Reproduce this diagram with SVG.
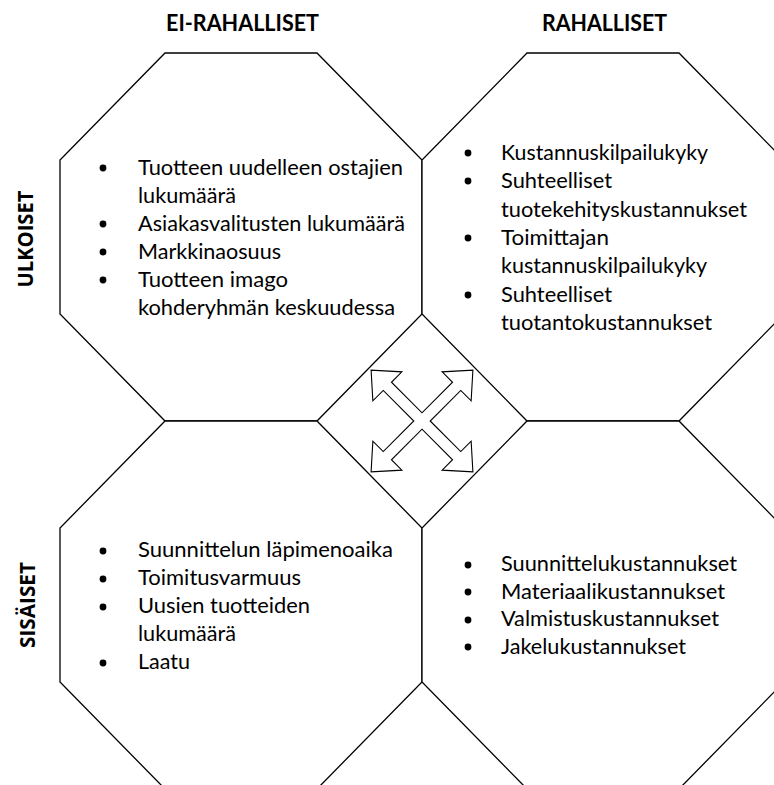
<svg xmlns="http://www.w3.org/2000/svg" width="774" height="785" viewBox="0 0 774 785">
  <style>
    .oct { fill: #ffffff; stroke: #000000; stroke-width: 1.3; stroke-linejoin: miter; }
    .arrow { fill: #ffffff; stroke: #000000; stroke-width: 1.1; stroke-linejoin: miter; }
    .t { font-family: Lato, "Liberation Sans", sans-serif; font-size: 21px; fill: #000000; }
    .h { font-family: Lato, "Liberation Sans", sans-serif; font-size: 22px; font-weight: bold; fill: #000000; }
    .v { font-family: "Open Sans", Lato, "Liberation Sans", sans-serif; font-size: 22px; font-weight: bold; fill: #000000; }
    .dot { fill: #000000; }
  </style>

  <rect x="0" y="0" width="774" height="785" fill="#ffffff"/>

  <!-- column headings -->
  <g id="heading-ei-rahalliset">
    <text class="h" x="166" y="31" textLength="153" lengthAdjust="spacingAndGlyphs">EI-RAHALLISET</text>
  </g>
  <g id="heading-rahalliset">
    <text class="h" x="542" y="31" textLength="125" lengthAdjust="spacingAndGlyphs">RAHALLISET</text>
  </g>

  <!-- row headings -->
  <g id="heading-ulkoiset">
    <text class="v" transform="translate(33,239) rotate(-90)" text-anchor="middle" textLength="97" lengthAdjust="spacingAndGlyphs">ULKOISET</text>
  </g>
  <g id="heading-sisaiset">
    <text class="v" transform="translate(35,605) rotate(-90)" text-anchor="middle" textLength="86" lengthAdjust="spacingAndGlyphs">SISÄISET</text>
  </g>

  <!-- external, non-monetary -->
  <g id="octagon-external-nonmonetary">
    <polygon class="oct" points="165,53 317,53 422,160 422,314 317,421 165,421 60,314 60,160"/>
    <circle class="dot" cx="103" cy="168" r="3.4"/>
    <circle class="dot" cx="103" cy="224" r="3.4"/>
    <circle class="dot" cx="103" cy="252" r="3.4"/>
    <circle class="dot" cx="103" cy="280" r="3.4"/>
    <text class="t" x="138" y="175" textLength="265" lengthAdjust="spacingAndGlyphs">Tuotteen uudelleen ostajien</text>
    <text class="t" x="138" y="203" textLength="98" lengthAdjust="spacingAndGlyphs">lukumäärä</text>
    <text class="t" x="138" y="231" textLength="267" lengthAdjust="spacingAndGlyphs">Asiakasvalitusten lukumäärä</text>
    <text class="t" x="138" y="259" textLength="143" lengthAdjust="spacingAndGlyphs">Markkinaosuus</text>
    <text class="t" x="138" y="287" textLength="150" lengthAdjust="spacingAndGlyphs">Tuotteen imago</text>
    <text class="t" x="138" y="315" textLength="257" lengthAdjust="spacingAndGlyphs">kohderyhmän keskuudessa</text>
  </g>

  <!-- external, monetary -->
  <g id="octagon-external-monetary">
    <polygon class="oct" points="527,53 679,53 784,160 784,314 679,421 527,421 422,314 422,160"/>
    <circle class="dot" cx="468" cy="153" r="3.4"/>
    <circle class="dot" cx="468" cy="181" r="3.4"/>
    <circle class="dot" cx="468" cy="238" r="3.4"/>
    <circle class="dot" cx="468" cy="295" r="3.4"/>
    <text class="t" x="501" y="160" textLength="207" lengthAdjust="spacingAndGlyphs">Kustannuskilpailukyky</text>
    <text class="t" x="501" y="188.3" textLength="111" lengthAdjust="spacingAndGlyphs">Suhteelliset</text>
    <text class="t" x="501" y="216.6" textLength="246" lengthAdjust="spacingAndGlyphs">tuotekehityskustannukset</text>
    <text class="t" x="501" y="244.9" textLength="108" lengthAdjust="spacingAndGlyphs">Toimittajan</text>
    <text class="t" x="501" y="273.2" textLength="206" lengthAdjust="spacingAndGlyphs">kustannuskilpailukyky</text>
    <text class="t" x="501" y="301.5" textLength="111" lengthAdjust="spacingAndGlyphs">Suhteelliset</text>
    <text class="t" x="501" y="329.8" textLength="211" lengthAdjust="spacingAndGlyphs">tuotantokustannukset</text>
  </g>

  <!-- internal, non-monetary -->
  <g id="octagon-internal-nonmonetary">
    <polygon class="oct" points="165,421 317,421 422,528 422,682 317,789 165,789 60,682 60,528"/>
    <circle class="dot" cx="103" cy="551" r="3.4"/>
    <circle class="dot" cx="103" cy="579" r="3.4"/>
    <circle class="dot" cx="103" cy="607" r="3.4"/>
    <circle class="dot" cx="103" cy="663" r="3.4"/>
    <text class="t" x="138" y="557" textLength="255" lengthAdjust="spacingAndGlyphs">Suunnittelun läpimenoaika</text>
    <text class="t" x="138" y="585" textLength="163" lengthAdjust="spacingAndGlyphs">Toimitusvarmuus</text>
    <text class="t" x="138" y="613" textLength="172" lengthAdjust="spacingAndGlyphs">Uusien tuotteiden</text>
    <text class="t" x="138" y="641" textLength="98" lengthAdjust="spacingAndGlyphs">lukumäärä</text>
    <text class="t" x="138" y="669" textLength="52" lengthAdjust="spacingAndGlyphs">Laatu</text>
  </g>

  <!-- internal, monetary -->
  <g id="octagon-internal-monetary">
    <polygon class="oct" points="527,421 679,421 784,528 784,682 679,789 527,789 422,682 422,528"/>
    <circle class="dot" cx="468" cy="565" r="3.4"/>
    <circle class="dot" cx="468" cy="592" r="3.4"/>
    <circle class="dot" cx="468" cy="620" r="3.4"/>
    <circle class="dot" cx="468" cy="647" r="3.4"/>
    <text class="t" x="501" y="571" textLength="236" lengthAdjust="spacingAndGlyphs">Suunnittelukustannukset</text>
    <text class="t" x="501" y="598.5" textLength="224" lengthAdjust="spacingAndGlyphs">Materiaalikustannukset</text>
    <text class="t" x="501" y="626" textLength="218" lengthAdjust="spacingAndGlyphs">Valmistuskustannukset</text>
    <text class="t" x="501" y="653.5" textLength="185" lengthAdjust="spacingAndGlyphs">Jakelukustannukset</text>
  </g>

  <!-- four-way arrow in the central diamond -->
  <g id="connectors">
    <g id="quad-arrow" transform="translate(422,421)">
      <polygon class="arrow" points="8.2,0 38.75,30.55 49.15,20.15 50.9,50.9 20.15,49.15 30.55,38.75 0,8.2 -30.55,38.75 -20.15,49.15 -50.9,50.9 -49.15,20.15 -38.75,30.55 -8.2,0 -38.75,-30.55 -49.15,-20.15 -50.9,-50.9 -20.15,-49.15 -30.55,-38.75 0,-8.2 30.55,-38.75 20.15,-49.15 50.9,-50.9 49.15,-20.15 38.75,-30.55"/>
    </g>
  </g>
</svg>
